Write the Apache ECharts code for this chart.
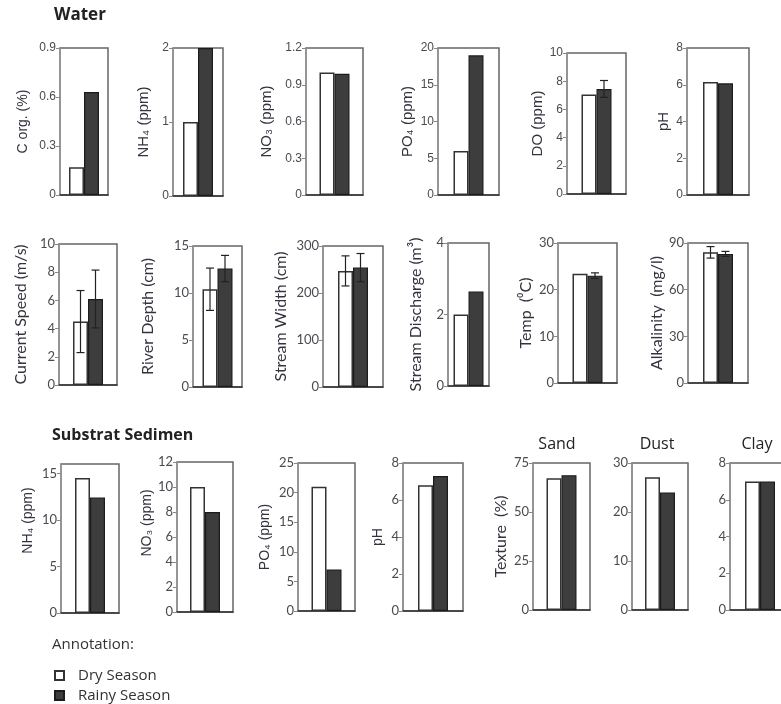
<!DOCTYPE html>
<html>
<head>
<meta charset="utf-8">
<script src="https://cdn.jsdelivr.net/npm/echarts@6/dist/echarts.min.js"></script>
<style>html,body{margin:0;padding:0;background:#fff}#c{width:781px;height:704px}</style>
</head>
<body>
<div id="c"></div>
<script>
// ---- data ----
const panelNames = ['C org. (%)', 'NH₄ (ppm)', 'NO₃ (ppm)', 'PO₄ (ppm)', 'DO (ppm)', 'pH',
  'Current Speed (m/s)', 'River Depth (cm)', 'Stream Width (cm)', 'Stream Discharge (m³)', 'Temp  (⁰C)', 'Alkalinity  (mg/l)',
  'NH₄ (ppm)', 'NO₃ (ppm)', 'PO₄ (ppm)', 'pH', 'Texture  (%)', '', ''];
const dryValues   = [0.17, 1.0, 1.0, 6.0, 7.05, 6.15, 4.5, 10.4, 247, 2.0, 23.4, 84, 14.5, 10, 21, 6.8, 67.2, 27.1, 7.0];
const rainyValues = [0.63, 2.0, 0.99, 19.0, 7.45, 6.08, 6.1, 12.6, 254, 2.64, 23.0, 83, 12.4, 8, 7, 7.3, 68.8, 24.0, 7.0];
const dryError    = [null, null, null, null, null, null, 2.2, 2.25, 32, null, null, 3.7, null, null, null, null, null, null, null];
const rainyError  = [null, null, null, null, 0.6, null, 2.05, 1.4, 30, null, 0.6, 1.6, null, null, null, null, null, null, null];
const axisMax     = [0.9, 2, 1.2, 20, 10, 8, 10, 15, 300, 4, 30, 90, 16, 12, 25, 8, 75, 30, 8];
const axisStep    = [0.3, 1, 0.3, 5, 2, 2, 2, 5, 100, 2, 10, 30, 5, 2, 5, 2, 25, 10, 2];
const seriesNames = ['Dry Season', 'Rainy Season'];
const sectionTitles = ['Water', 'Substrat Sedimen'];
const textureTitles = ['Sand', 'Dust', 'Clay'];
const annotationTitle = 'Annotation:';

// ---- layout (pixels): [left, top, right, bottom, nameGap, nameFont, nameSize, labelFont, labelSize, nameShiftUp] ----
const ARIAL = 'Liberation Sans, Arial, sans-serif';
const CALI = 'Lato, Open Sans, sans-serif';
const layout = [
  [60, 48, 108, 195, 30, ARIAL, 14, ARIAL, 12, 0],
  [173, 48, 223, 196, 22, ARIAL, 15, ARIAL, 12, 0],
  [306, 48, 363, 195, 32, ARIAL, 15, ARIAL, 12, 0],
  [438, 48, 499, 195, 23, ARIAL, 15, ARIAL, 12, 0],
  [567, 53, 626, 194, 17, ARIAL, 15, ARIAL, 12, 0],
  [687, 48, 749, 195, 16, ARIAL, 15, ARIAL, 12, 0],
  [59, 244, 117, 385, 30, CALI, 16, CALI, 13, 0],
  [193, 246, 242, 387, 37, CALI, 16, CALI, 13, 0],
  [323, 246, 383, 387, 34, CALI, 16, CALI, 13, 0],
  [448, 243, 489, 386, 24, CALI, 16, CALI, 13, 0],
  [558, 243, 617, 383, 24, CALI, 16, CALI, 13, 0],
  [688, 243, 748, 383, 22, CALI, 16, CALI, 13, 0],
  [61, 464, 119, 613, 26, ARIAL, 14, CALI, 13, 18],
  [177, 462, 233, 612, 23, ARIAL, 14, CALI, 13, 14],
  [298, 463, 355, 611, 26, ARIAL, 14, CALI, 13, 0],
  [403, 463, 463, 611, 18, ARIAL, 14, CALI, 13, 0],
  [533, 463, 590, 610, 24, CALI, 16, CALI, 13, 0],
  [632, 463, 688, 610, 24, CALI, 16, CALI, 13, 0],
  [730, 463, 790, 610, 24, CALI, 16, CALI, 13, 0]
];
const BARW = 15;

const grids = [], xAxes = [], yAxes = [], series = [];
layout.forEach((L, i) => {
  grids.push({ left: L[0], top: L[1], width: L[2] - L[0], height: L[3] - L[1],
    show: true, borderColor: '#666', borderWidth: 1.5, backgroundColor: 'transparent', outerBoundsMode: 'none' });
  xAxes.push({ type: 'category', gridIndex: i, data: [''],
    axisLine: { show: true, lineStyle: { color: '#333', width: 1.5 } },
    axisTick: { show: false }, axisLabel: { show: false }, splitLine: { show: false } });
  const onStep = Math.abs(Math.round(axisMax[i] / axisStep[i]) * axisStep[i] - axisMax[i]) < 1e-9;
  yAxes.push({ type: 'value', gridIndex: i, min: 0, max: axisMax[i], interval: axisStep[i],
    name: panelNames[i], nameLocation: 'middle', nameRotate: 90, nameGap: L[4],
    nameTextStyle: { fontFamily: L[5], fontSize: L[6], color: '#33333f', padding: [0, 0, 0, 2 * L[9]] },
    axisLine: { show: true, lineStyle: { color: '#999', width: 1.5 } },
    axisTick: { show: true, length: 4, lineStyle: { color: '#888' } },
    axisLabel: { show: true, margin: 4, fontFamily: L[7], fontSize: L[8], color: '#4a4a52', showMaxLabel: onStep },
    splitLine: { show: false } });
  series.push({ type: 'bar', name: seriesNames[0], xAxisIndex: i, yAxisIndex: i, barWidth: BARW, barGap: '0%',
    data: [dryValues[i]], itemStyle: { color: '#ffffff', borderColor: '#333', borderWidth: 1.5 }, silent: true, animation: false });
  series.push({ type: 'bar', name: seriesNames[1], xAxisIndex: i, yAxisIndex: i, barWidth: BARW, barGap: '0%',
    data: [rainyValues[i]], itemStyle: { color: '#3d3d3d', borderColor: '#1c1c1c', borderWidth: 1.2 }, silent: true, animation: false });
  const errData = [];
  if (dryError[i] != null) errData.push([0, dryValues[i], dryError[i], -1]);
  if (rainyError[i] != null) errData.push([0, rainyValues[i], rainyError[i], 1]);
  if (errData.length) {
    series.push({ type: 'custom', xAxisIndex: i, yAxisIndex: i, z: 5, animation: false, silent: true,
      data: errData,
      renderItem: (params, api) => {
        const c = api.value(0), v = api.value(1), e = api.value(2), s = api.value(3);
        const hi = api.coord([c, v + e]), lo = api.coord([c, v - e]);
        const x = hi[0] + s * BARW / 2;
        const st = { stroke: '#222', lineWidth: 1.2 };
        return { type: 'group', children: [
          { type: 'line', shape: { x1: x, y1: hi[1], x2: x, y2: lo[1] }, style: st },
          { type: 'line', shape: { x1: x - 4, y1: hi[1], x2: x + 4, y2: hi[1] }, style: st },
          { type: 'line', shape: { x1: x - 4, y1: lo[1], x2: x + 4, y2: lo[1] }, style: st }
        ] };
      } });
  }
});

const titles = [
  { text: sectionTitles[0], left: 54, top: 7, padding: 0, textStyle: { fontFamily: 'Open Sans', fontWeight: 'bold', fontSize: 17, color: '#222' } },
  { text: sectionTitles[1], left: 52, top: 427, padding: 0, textStyle: { fontFamily: 'Open Sans', fontWeight: 'bold', fontSize: 16, color: '#222' } },
  { text: textureTitles[0], left: 557, top: 436, textAlign: 'center', padding: 0, textStyle: { fontFamily: 'Open Sans', fontWeight: 'normal', fontSize: 16, color: '#222' } },
  { text: textureTitles[1], left: 657, top: 436, textAlign: 'center', padding: 0, textStyle: { fontFamily: 'Open Sans', fontWeight: 'normal', fontSize: 16, color: '#222' } },
  { text: textureTitles[2], left: 757, top: 436, textAlign: 'center', padding: 0, textStyle: { fontFamily: 'Open Sans', fontWeight: 'normal', fontSize: 16, color: '#222' } },
  { text: annotationTitle, left: 52, top: 637, padding: 0, textStyle: { fontFamily: 'Open Sans', fontWeight: 'normal', fontSize: 15, color: '#333' } }
];

const legendBase = { left: 54, padding: 0, icon: 'rect', itemWidth: 9, itemHeight: 9, selectedMode: false,
  textStyle: { fontFamily: 'Open Sans', fontSize: 15, color: '#333', padding: [0, 0, 0, 9] } };

const chart = echarts.init(document.getElementById('c'), null, { renderer: 'canvas' });
chart.setOption({
  animation: false,
  backgroundColor: '#fff',
  title: titles,
  legend: [
    Object.assign({}, legendBase, { data: [seriesNames[0]], top: 668 }),
    Object.assign({}, legendBase, { data: [seriesNames[1]], top: 688 })
  ],
  grid: grids, xAxis: xAxes, yAxis: yAxes, series: series
});
</script>
</body>
</html>
